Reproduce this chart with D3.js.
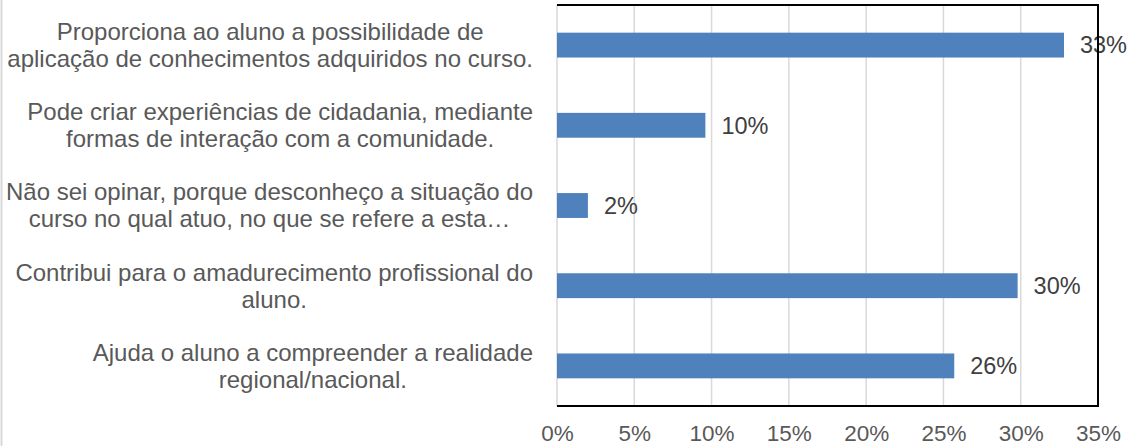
<!DOCTYPE html>
<html>
<head>
<meta charset="utf-8">
<script src="https://cdn.jsdelivr.net/npm/d3@7"></script>
<style>
  body { margin: 0; background: #fff; }
  svg { display: block; font-family: "Liberation Sans", Arial, sans-serif; }
</style>
</head>
<body>
<svg class="chart" width="1132" height="446"></svg>
<script>
const categories = [
  ["Proporciona ao aluno a possibilidade de", "aplicação de conhecimentos adquiridos no curso."],
  ["Pode criar experiências de cidadania, mediante", "formas de interação com a comunidade."],
  ["Não sei opinar, porque desconheço a situação do", "curso no qual atuo, no que se refere a esta…"],
  ["Contribui para o amadurecimento profissional do", "aluno."],
  ["Ajuda o aluno a compreender a realidade", "regional/nacional."],
];

const values = [32.8, 9.6, 2.0, 29.8, 25.7];

const xTicks = [0, 5, 10, 15, 20, 25, 30, 35];

const svg = d3.select('.chart');
const margin = { top: 5, right: 34, bottom: 40, left: 557 };
const width = 1132 - margin.left - margin.right;
const height = 446 - margin.top - margin.bottom;

// faint outer chart border on the left
svg.append('line')
  .attr('x1', 1.5).attr('x2', 1.5)
  .attr('y1', 0).attr('y2', 446)
  .attr('stroke', '#d9d9d9')
  .attr('stroke-width', 2);

const g = svg.append('g').attr('transform', `translate(${margin.left},${margin.top})`);

const x = d3.scaleLinear().domain([0, 35]).range([0, width]);
const y = d3.scaleBand()
  .domain(categories.map((d, i) => i))
  .range([0, height])
  .paddingInner(0.69)
  .paddingOuter(0.345);

// gridlines
g.selectAll('.grid')
  .data(xTicks)
  .join('line')
  .attr('class', 'grid')
  .attr('x1', d => x(d)).attr('x2', d => x(d))
  .attr('y1', 0).attr('y2', height)
  .attr('stroke', '#d9d9d9')
  .attr('stroke-width', 1.5);

// bars
g.selectAll('.bar')
  .data(values)
  .join('rect')
  .attr('class', 'bar')
  .attr('x', 0)
  .attr('y', (d, i) => y(i))
  .attr('width', d => x(d))
  .attr('height', y.bandwidth())
  .attr('fill', '#4f81bd');

// data labels
g.selectAll('.val')
  .data(values)
  .join('text')
  .attr('class', 'val')
  .attr('x', d => x(d) + 16)
  .attr('y', (d, i) => y(i) + y.bandwidth() / 2)
  .attr('dy', '0.35em')
  .attr('font-size', 23.5)
  .attr('fill', '#404040')
  .text(d => Math.round(d) + '%');

// plot frame: top, right, bottom
g.append('path')
  .attr('d', `M0,0H${width}V${height}H0`)
  .attr('fill', 'none')
  .attr('stroke', '#000')
  .attr('stroke-width', 2);

// x axis
const xAxis = g.append('g')
  .attr('transform', `translate(0,${height})`)
  .call(d3.axisBottom(x).tickValues(xTicks).tickSize(0).tickPadding(19).tickFormat(d => d + '%'));
xAxis.select('.domain').remove();
xAxis.selectAll('text')
  .attr('font-size', 22.5)
  .attr('font-family', '"Liberation Sans", Arial, sans-serif')
  .attr('fill', '#595959');

// category labels, wrapped lines centered within a right-aligned block
const labelRight = -24;
const lineH = 27;
const cat = g.selectAll('.cat')
  .data(categories)
  .join('text')
  .attr('class', 'cat')
  .attr('font-size', 24)
  .attr('fill', '#595959')
  .attr('text-anchor', 'middle');

cat.each(function (lines, i) {
  const t = d3.select(this);
  const cy = y(i) + y.bandwidth() / 2;
  lines.forEach((s, k) => {
    t.append('tspan')
      .attr('y', cy + (k - (lines.length - 1) / 2) * lineH)
      .attr('dy', '0.35em')
      .text(s);
  });
  let maxW = 0;
  t.selectAll('tspan').each(function () {
    maxW = Math.max(maxW, this.getComputedTextLength());
  });
  t.selectAll('tspan').attr('x', labelRight - maxW / 2);
});
</script>
</body>
</html>
